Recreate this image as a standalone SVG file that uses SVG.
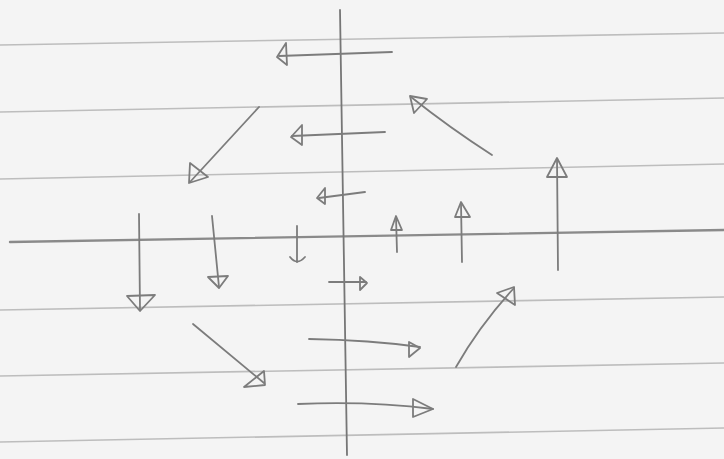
<svg xmlns="http://www.w3.org/2000/svg" width="724" height="459" viewBox="0 0 724 459">
<style>
.rule{stroke:#bdbdbd;stroke-width:1.6;fill:none}
.axis{stroke:#767676;stroke-width:1.8;fill:none;stroke-linecap:round}
.ax2{stroke:#8a8a8a;stroke-width:2.4;fill:none;stroke-linecap:round}
.arr{stroke:#7c7c7c;stroke-width:1.8;fill:none;stroke-linecap:round;stroke-linejoin:round}
</style>
<rect width="724" height="459" fill="#f4f4f4"/>
<g id="paper">
<line class="rule" x1="0" y1="45" x2="724" y2="33"/>
<line class="rule" x1="0" y1="112" x2="724" y2="98"/>
<line class="rule" x1="0" y1="179" x2="724" y2="164"/>
<line class="rule" x1="0" y1="310" x2="724" y2="297"/>
<line class="rule" x1="0" y1="376" x2="724" y2="363"/>
<line class="rule" x1="0" y1="442" x2="724" y2="428"/>
</g>
<g id="axes">
<path class="ax2" d="M10 242 Q 300 238 724 230"/>
<path class="axis" d="M340 10 Q 342 200 347 455"/>
</g>
<g id="arrows">
<path class="arr" d="M392 52 L279 56"/><polygon class="arr" points="286,43 277,57 287,65"/>
<path class="arr" d="M385 132 L292 136"/><polygon class="arr" points="302,125 291,137 302,145"/>
<path class="arr" d="M365 192 L319 198"/><polygon class="arr" points="325,188 317,198 325,204"/>
<path class="arr" d="M492 155 Q 450 128 411 97"/><polygon class="arr" points="427,99 410,96 414,113"/>
<path class="arr" d="M259 107 L190 182"/><polygon class="arr" points="190,163 189,183 208,177"/>
<path class="arr" d="M558 270 L557 159"/><polygon class="arr" points="547,177 557,158 567,177"/>
<path class="arr" d="M462 262 L461 203"/><polygon class="arr" points="455,217 461,202 470,217"/>
<path class="arr" d="M397 252 L396 217"/><polygon class="arr" points="391,230 396,216 402,230"/>
<path class="arr" d="M139 214 L140 310"/><polygon class="arr" points="127,296 140,311 155,295"/>
<path class="arr" d="M212 216 L219 287"/><polygon class="arr" points="208,277 219,288 228,276"/>
<path class="arr" d="M297 226 L297 262"/><path class="arr" d="M290 257 Q 297 266 305 257"/>
<path class="arr" d="M329 282 L366 282"/><polygon class="arr" points="360,277 367,283 360,290"/>
<path class="arr" d="M309 339 Q 370 340 420 347"/><polygon class="arr" points="409,342 420,348 409,357"/>
<path class="arr" d="M298 404 Q 370 401 433 409"/><polygon class="arr" points="413,399 433,409 413,417"/>
<path class="arr" d="M193 324 L264 383"/><polygon class="arr" points="264,371 265,385 244,387"/>
<path class="arr" d="M456 367 Q 480 325 514 288"/><polygon class="arr" points="497,293 514,287 515,305"/>
</g>
</svg>
